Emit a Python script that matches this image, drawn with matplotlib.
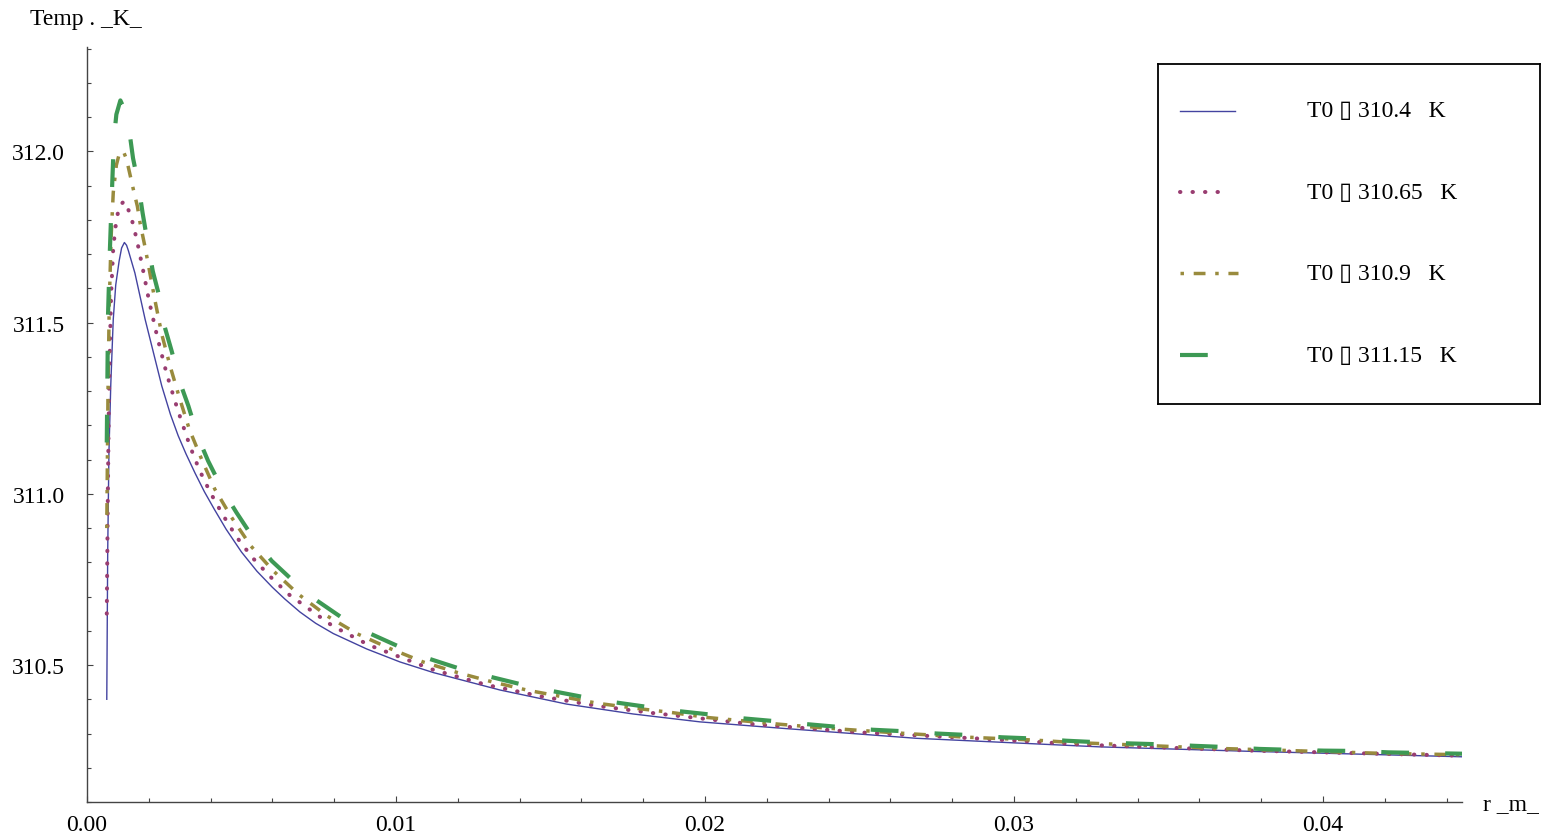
import matplotlib
matplotlib.use("Agg")
import matplotlib.pyplot as plt
from matplotlib.ticker import MultipleLocator, FormatStrFormatter

# radius (m) / temperature (K)
r_a = [0.00064, 0.00067, 0.00071, 0.00077, 0.00085, 0.00093, 0.00104, 0.00112, 0.00121, 0.00128,
       0.00134, 0.00155, 0.00188, 0.00242, 0.0027, 0.00295, 0.0032, 0.0035, 0.0038, 0.00412,
       0.0045, 0.005, 0.0055, 0.006, 0.0064, 0.00689, 0.0074, 0.00797, 0.00905, 0.01013,
       0.01121, 0.01337, 0.01552, 0.01768, 0.01984, 0.02253, 0.02685, 0.03278, 0.03764, 0.04453]
t_a = [310.40, 310.83, 311.12, 311.32, 311.51, 311.61, 311.68, 311.718, 311.734, 311.726,
       311.71, 311.645, 311.51, 311.315, 311.232, 311.17, 311.1175, 311.06, 311.006, 310.955,
       310.897, 310.83, 310.774, 310.727, 310.693, 310.655, 310.622, 310.592, 310.547, 310.509,
       310.478, 310.427, 310.386, 310.357, 310.334, 310.315, 310.286, 310.261, 310.248, 310.232]

r_b = [0.00064, 0.00068, 0.00072, 0.00078, 0.00085, 0.00095, 0.00105, 0.0012, 0.00141, 0.00161,
       0.0018, 0.00201, 0.00228, 0.00258, 0.00294, 0.00333, 0.00363, 0.00399, 0.0044, 0.00484,
       0.00535, 0.00592, 0.00655, 0.00795, 0.00913, 0.01121, 0.01293, 0.01472, 0.01649, 0.01829,
       0.02146, 0.02507, 0.02912, 0.03233, 0.03774, 0.04453]
t_b = [310.65, 311.05, 311.35, 311.58, 311.72, 311.80, 311.84, 311.855, 311.816, 311.743,
       311.66, 311.563, 311.456, 311.35, 311.244, 311.14, 311.071, 311.004, 310.938, 310.874,
       310.814, 310.759, 310.705, 310.614, 310.558, 310.486, 310.442, 310.408, 310.381, 310.36,
       310.328, 310.303, 310.284, 310.267, 310.25, 310.235]

r_c = [0.00064, 0.00068, 0.00072, 0.00078, 0.00085, 0.00095, 0.00105, 0.00118, 0.00128, 0.00139,
       0.0015, 0.00163, 0.00172, 0.00188, 0.0022, 0.00242, 0.00269, 0.00299, 0.00331, 0.00371,
       0.00414, 0.00468, 0.0053, 0.00603, 0.00684, 0.00776, 0.00875, 0.00981, 0.01088, 0.01199,
       0.01315, 0.01428, 0.01541, 0.01655, 0.01773, 0.01887, 0.02006, 0.02124, 0.02243, 0.02361,
       0.02599, 0.02831, 0.03063, 0.03187, 0.03645, 0.04195, 0.04453]
t_c = [310.90, 311.30, 311.55, 311.75, 311.88, 311.96, 311.995, 312.00, 311.977, 311.933,
       311.889, 311.84, 311.79, 311.72, 311.565, 311.466, 311.373, 311.281, 311.189, 311.101,
       311.013, 310.931, 310.848, 310.775, 310.707, 310.644, 310.591, 310.548, 310.509, 310.478,
       310.45, 310.426, 310.407, 310.388, 310.374, 310.362, 310.347, 310.337, 310.327, 310.318,
       310.303, 310.29, 310.281, 310.274, 310.257, 310.242, 310.238]

r_d = [0.00064, 0.00068, 0.00074, 0.00081, 0.00087, 0.00095, 0.00108, 0.00121, 0.00134, 0.00149,
       0.00165, 0.0018, 0.00197, 0.00213, 0.00233, 0.00252, 0.00274, 0.00301, 0.00328, 0.0036,
       0.00392, 0.00441, 0.00484, 0.00544, 0.00598, 0.00679, 0.00738, 0.0084, 0.00916, 0.01024,
       0.01105, 0.01218, 0.01304, 0.01417, 0.01506, 0.01622, 0.01709, 0.01827, 0.01919, 0.02032,
       0.02127, 0.0224, 0.02334, 0.02448, 0.02543, 0.02658, 0.0275, 0.02866, 0.0296, 0.03075,
       0.03168, 0.03284, 0.03378, 0.03492, 0.03586, 0.03699, 0.03794, 0.03909, 0.04003, 0.04117,
       0.04211, 0.04328, 0.04453]
t_d = [311.15, 311.52, 311.71, 311.89, 312.035, 312.108, 312.149, 312.123, 312.079, 311.98,
       311.91, 311.82, 311.73, 311.65, 311.58, 311.486, 311.417, 311.325, 311.257, 311.164,
       311.096, 311.008, 310.945, 310.863, 310.804, 310.736, 310.692, 310.629, 310.592, 310.548,
       310.519, 310.486, 310.466, 310.441, 310.424, 310.404, 310.391, 310.376, 310.365, 310.354,
       310.344, 310.335, 310.327, 310.318, 310.311, 310.306, 310.3, 310.295, 310.289, 310.285,
       310.279, 310.274, 310.271, 310.268, 310.264, 310.26, 310.255, 310.252, 310.25, 310.249,
       310.245, 310.243, 310.241]

labels = ["T0 \u25af 310.4   K", "T0 \u25af 310.65   K", "T0 \u25af 310.9   K", "T0 \u25af 311.15   K"]

plt.rcParams['lines.scale_dashes'] = False
plt.rcParams['font.family'] = ['Liberation Serif', 'DejaVu Sans']

styles = [
    dict(color='#4343a0', lw=1.0, ls='-'),
    dict(color='#993d71', lw=2.9, ls=(0, (0.3, 8.7)), dash_capstyle='round'),
    dict(color='#998b3d', lw=2.5, ls=(15.5, (8.5, 7, 2.5, 7))),
    dict(color='#3d9954', lw=3.0, ls=(0, (20, 26))),
]
series = [(r_a, t_a), (r_b, t_b), (r_c, t_c), (r_d, t_d)]

fig = plt.figure(figsize=(15.47, 8.37), dpi=100)
ax = fig.add_axes([87/1547, 34/837, 1375/1547, 755/837])

for (r, t), st in zip(series, styles):
    ax.plot(r, t, **st)

ax.set_xlim(0, 0.0445)
ax.set_ylim(310.1, 312.305)
ax.spines['top'].set_visible(False)
ax.spines['right'].set_visible(False)
for s in ['left', 'bottom']:
    ax.spines[s].set_color('#444444')
    ax.spines[s].set_linewidth(1.0)

ax.xaxis.set_major_locator(MultipleLocator(0.01))
ax.xaxis.set_minor_locator(MultipleLocator(0.002))
ax.xaxis.set_major_formatter(FormatStrFormatter('%.2f'))
ax.yaxis.set_major_locator(MultipleLocator(0.5))
ax.yaxis.set_minor_locator(MultipleLocator(0.1))
ax.yaxis.set_major_formatter(FormatStrFormatter('%.1f'))
ax.tick_params(which='both', direction='in', color='#444444', labelsize=17)
ax.tick_params(which='major', length=4.5, width=0.8)
ax.tick_params(which='minor', length=3, width=0.8)
ax.tick_params(axis='y', pad=16)
ax.tick_params(axis='x', pad=9)

fig.text(30/1547, 1 - 20/837, "Temp . _K_", fontsize=17, ha='left', va='center')
fig.text(1483/1547, 1 - 805/837, "r _m_", fontsize=17, ha='left', va='center')

# legend box drawn by hand
lax = fig.add_axes([1158/1547, 1 - 405/837, 382/1547, 340/837])
lax.set_xlim(0, 1)
lax.set_ylim(0, 1)
lax.set_xticks([])
lax.set_yticks([])
for s in lax.spines.values():
    s.set_color('black')
    s.set_linewidth(1.3)
rows = [0.862, 0.6235, 0.385, 0.144]
ends = [0.2016, 0.178, 0.209, 0.131]
for y, x1, st, lab in zip(rows, ends, styles, labels):
    lax.plot([0.0576, x1], [y, y], **st)
    lax.text(0.39, y, lab, fontsize=17, ha='left', va='center')

fig.savefig('out.png', dpi=100)
